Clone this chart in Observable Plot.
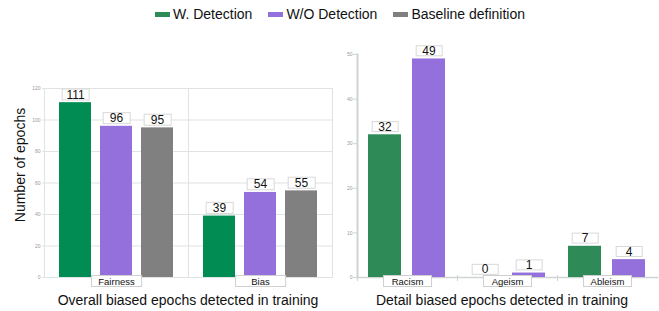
<!DOCTYPE html>
<html>
<head>
<meta charset="utf-8">
<script src="https://cdn.jsdelivr.net/npm/d3@7"></script>
<script src="https://cdn.jsdelivr.net/npm/@observablehq/plot@0.6"></script>
<style>
  body { margin: 0; background: #fff; font-family: "Liberation Sans", Arial, sans-serif; }
  #wrap { position: relative; width: 659px; height: 311px; overflow: hidden; background: #fff; }
  #legend { position: absolute; top: 6px; left: 155px; display: flex; align-items: center; font-size: 14px; color: #111; white-space: nowrap; }
  .item { display: flex; align-items: center; margin-right: 16px; }
  .sw { width: 15px; height: 5px; margin-right: 3px; }
  #left { position: absolute; left: 0; top: 0; }
  #right { position: absolute; left: 332px; top: 0; }
  .title { position: absolute; top: 292px; font-size: 14px; color: #111; white-space: nowrap; transform: translateX(-50%); }
  #ylab { position: absolute; left: 20px; top: 165px; font-size: 14px; color: #111; white-space: nowrap; transform: translate(-50%, -50%) rotate(-90deg); }
</style>
</head>
<body>
<div id="wrap">
  <div id="legend"></div>
  <div id="left"></div>
  <div id="right"></div>
  <div id="ylab">Number of epochs</div>
  <div class="title" style="left:188px">Overall biased epochs detected in training</div>
  <div class="title" style="left:502px">Detail biased epochs detected in training</div>
</div>
<script>
const seriesNames = ["W. Detection", "W/O Detection", "Baseline definition"];
const overallCategories = ["Fairness", "Bias"];
const fairnessEpochs = [111, 96, 95];
const biasEpochs = [39, 54, 55];
const detailCategories = ["Racism", "Ageism", "Ableism"];
const detailWithDetection = [32, 0, 7];
const detailWithoutDetection = [49, 1, 4];
const overallTicks = [0, 20, 40, 60, 80, 100, 120];
const detailTicks = [0, 10, 20, 30, 40, 50];
const overallColors = ["#008c52", "#9370db", "#808080"];
const detailColors = ["#2e8b57", "#9370db"];
const legendColors = ["#2e8b57", "#9370db", "#808080"];

const overallData = [];
overallCategories.forEach((c, i) => {
  const vals = i === 0 ? fairnessEpochs : biasEpochs;
  seriesNames.forEach((s, j) => overallData.push({category: c, series: s, value: vals[j]}));
});
const detailData = [];
detailCategories.forEach((c, i) => {
  detailData.push({category: c, series: seriesNames[0], value: detailWithDetection[i]});
  detailData.push({category: c, series: seriesNames[1], value: detailWithoutDetection[i]});
});

// legend
const legend = d3.select("#legend");
seriesNames.forEach((s, i) => {
  const it = legend.append("div").attr("class", "item");
  it.append("div").attr("class", "sw").style("background", legendColors[i]);
  it.append("span").text(s);
});

const font = {fontFamily: "'Liberation Sans', Arial, sans-serif", background: "transparent", overflow: "visible"};
const gridColor = "#dfe3e3";

const left = Plot.plot({
  width: 334, height: 311,
  marginLeft: 44, marginRight: 2, marginTop: 88, marginBottom: 34,
  style: font,
  fx: {domain: overallCategories, padding: 0, axis: null},
  x: {domain: seriesNames, paddingInner: 0.23, paddingOuter: 0.343, axis: null},
  y: {domain: [0, 120]},
  color: {domain: seriesNames, range: overallColors},
  marks: [
    Plot.gridY(overallTicks, {stroke: gridColor, strokeOpacity: 1}),
    Plot.frame({stroke: gridColor}),
    Plot.axisY(overallTicks, {tickSize: 2, tickPadding: 2, fontSize: 5, fill: "#9a9a9a", stroke: gridColor, label: null}),
    Plot.barY(overallData, {fx: "category", x: "series", y: "value", fill: "series"}),
    Plot.text(overallData, {fx: "category", x: "series", y: "value", text: d => String(d.value), dy: -8, fontSize: 12, fill: "#111", className: "vlabel"}),
    Plot.text(overallCategories, {fx: d => d, text: d => d, frameAnchor: "bottom", dy: 7, fontSize: 9.5, fill: "#111", className: "clabel"})
  ]
});
document.getElementById("left").appendChild(left);

const right = Plot.plot({
  width: 327, height: 311,
  marginLeft: 24, marginRight: 2, marginTop: 54, marginBottom: 34,
  style: font,
  fx: {domain: detailCategories, padding: 0, axis: null},
  x: {domain: seriesNames.slice(0, 2), paddingInner: 0.244, paddingOuter: 0.236, axis: null},
  y: {domain: [0, 50]},
  color: {domain: seriesNames.slice(0, 2), range: detailColors},
  marks: [
    Plot.frame({anchor: "bottom", stroke: "#cfd3d3", strokeWidth: 1.5}),
    Plot.frame({anchor: "left", stroke: "#cfd3d3", insetTop: 221, insetBottom: -3}),
    Plot.frame({anchor: "left", stroke: "#cfd3d3", strokeWidth: 2, facetAnchor: "left"}),
    Plot.axisY(detailTicks, {tickSize: 4, tickPadding: 1, fontSize: 5, fill: "#9a9a9a", stroke: "#cfd3d3", label: null}),
    Plot.barY(detailData, {fx: "category", x: "series", y: "value", fill: "series"}),
    Plot.text(detailData, {fx: "category", x: "series", y: "value", text: d => String(d.value), dy: -8, fontSize: 12, fill: "#111", className: "vlabel"}),
    Plot.text(detailCategories, {fx: d => d, text: d => d, frameAnchor: "bottom", dy: 7, fontSize: 9.5, fill: "#111", className: "clabel"})
  ]
});
document.getElementById("right").appendChild(right);

function boxLabels(svg, cls, w, h, stroke) {
  svg.querySelectorAll("." + cls + " text").forEach(t => {
    const b = t.getBBox();
    const cx = b.x + b.width / 2, cy = b.y + b.height / 2;
    const r = document.createElementNS("http://www.w3.org/2000/svg", "rect");
    r.setAttribute("x", cx - w / 2);
    r.setAttribute("y", cy - h / 2);
    r.setAttribute("width", w);
    r.setAttribute("height", h);
    r.setAttribute("fill", "#fff");
    r.setAttribute("stroke", stroke);
    r.setAttribute("stroke-width", 1);
    const tr = t.getAttribute("transform");
    if (tr) r.setAttribute("transform", tr);
    t.parentNode.insertBefore(r, t);
  });
}
boxLabels(left, "vlabel", 27, 11, "#d8d8d8");
boxLabels(left, "clabel", 50, 11, "#cfcfcf");
boxLabels(right, "vlabel", 26, 10, "#d8d8d8");
boxLabels(right, "clabel", 48, 11, "#cfcfcf");
</script>
</body>
</html>
